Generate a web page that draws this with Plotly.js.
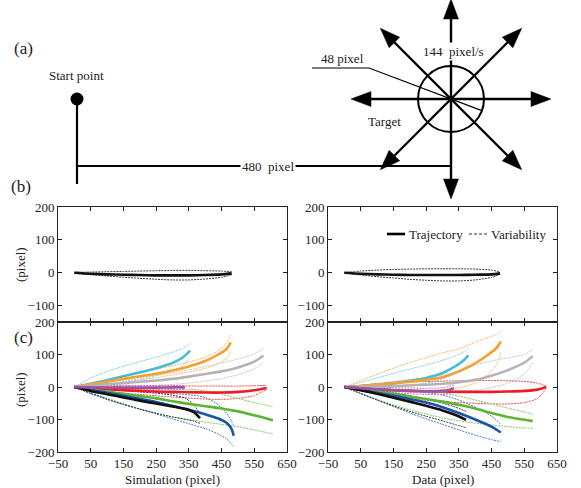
<!DOCTYPE html>
<html><head><meta charset="utf-8">
<script src="https://cdn.plot.ly/plotly-3.0.1.min.js"></script>
<style>html,body{margin:0;padding:0;background:#fff}#chart{width:581px;height:488px}</style>
</head><body><div id="chart"></div>
<script>
// ---------------- DATA ----------------
const xTicks = [-50, 50, 150, 250, 350, 450, 550, 650];
const yTicksB = [-100, 0, 100, 200];
const yTicksC = [-200, -100, 0, 100, 200];
const legendLabels = ['Trajectory', 'Variability'];
const xTitles = ['Simulation (pixel)', 'Data (pixel)'];
const yTitle = '(pixel)';
const panelLabels = ['(a)', '(b)', '(c)'];

// panel (b): one target direction
const bSimX    = [0, 50, 100, 150, 200, 250, 300, 350, 400, 450, 481];
const bSimMean = [0, -3, -5, -6, -7, -8, -8, -8, -7, -5, -2];
const bSimUp   = [1, 2, 3, 4, 5, 6, 7, 7, 6, 5, 3];
const bSimLow  = [-2, -6, -10, -14, -17, -20, -22, -22, -19, -14, -6];
const bDatX    = [0, 50, 100, 150, 200, 250, 300, 350, 400, 450, 476];
const bDatMean = [0, -3, -5, -6, -7, -7, -7, -7, -6, -5, -2];
const bDatUp   = [0, 5, 8, 10, 11, 12, 12, 12, 11, 8, 2];
const bDatLow  = [0, -7, -12, -16, -20, -23, -25, -25, -22, -14, -5];

// panel (c) simulation
const sCyanX = [0, 50, 100, 150, 200, 250, 300, 330, 354];
const sCyanMean = [0, 10, 21, 33, 45, 58, 74, 90, 112];
const sCyanUp = [0, 28, 48, 64, 78, 92, 107, 118, 134];
const sCyanLow = [0, 4, 10, 17, 25, 35, 50, 65, 92];
const sOrangeX = [0, 50, 100, 150, 200, 250, 300, 350, 400, 440, 465, 478];
const sOrangeMean = [0, 8, 16, 25, 33, 41, 51, 63, 80, 100, 117, 137];
const sOrangeUp = [0, 12, 24, 35, 45, 55, 65, 77, 92, 112, 135, 160];
const sOrangeLow = [0, 4, 9, 15, 22, 29, 37, 46, 57, 72, 88, 109];
const sGrayX = [0, 50, 100, 150, 200, 250, 300, 350, 400, 450, 500, 550, 578];
const sGrayMean = [0, 4, 8, 12, 16, 20, 25, 32, 40, 48, 60, 78, 97];
const sGrayUp = [0, 8, 15, 22, 29, 36, 44, 53, 63, 74, 86, 102, 118];
const sGrayLow = [0, 0, 1, 2, 3, 5, 8, 12, 18, 26, 38, 56, 76];
const sRedX = [0, 50, 100, 150, 200, 250, 300, 350, 400, 450, 500, 550, 588];
const sRedMean = [0, -4, -7, -10, -12, -14, -15, -16, -17, -17, -15, -10, -3];
const sRedUp = [0, 1, 2, 3, 3, 3, 3, 3, 3, 3, 3, 4, 5];
const sRedLow = [0, -8, -14, -19, -23, -27, -31, -34, -37, -38, -35, -26, -8];
const sPurpleX = [0, 50, 100, 150, 200, 250, 300, 338];
const sPurpleMean = [0, -1, -2, -2, -2, -2, -1, -1];
const sPurpleUp = [0, 3, 4, 5, 5, 5, 5, 5];
const sPurpleLow = [0, -4, -6, -7, -7, -7, -7, -6];
const sGreenX = [0, 50, 100, 150, 200, 250, 300, 350, 400, 450, 500, 550, 607];
const sGreenMean = [0, -7, -14, -21, -28, -35, -44, -52, -59, -66, -75, -87, -102];
const sGreenUp = [0, -2, -4, -5, -6, -6, -6, -7, -12, -22, -35, -48, -60];
const sGreenLow = [0, -20, -38, -54, -68, -80, -92, -100, -108, -115, -122, -132, -145];
const sBlueX = [0, 50, 100, 150, 200, 250, 300, 350, 400, 440, 465, 480, 487];
const sBlueMean = [0, -9, -18, -27, -36, -46, -58, -70, -84, -97, -110, -128, -150];
const sBlueUp = [0, -3, -6, -9, -12, -16, -20, -24, -32, -55, -80, -105, -117];
const sBlueLow = [0, -18, -35, -52, -68, -83, -98, -113, -128, -145, -160, -175, -184];
const sBlackX = [0, 50, 100, 150, 200, 250, 300, 340, 365, 384];
const sBlackMean = [0, -12, -22, -32, -42, -51, -60, -68, -77, -96];
const sBlackUp = [0, -3, -7, -11, -15, -19, -25, -35, -55, -82];
const sBlackLow = [0, -20, -38, -54, -68, -81, -92, -100, -105, -112];

// panel (c) data
const dCyanX = [0, 50, 100, 150, 200, 250, 300, 340, 365, 379];
const dCyanMean = [0, 3, 7, 12, 19, 28, 43, 64, 82, 97];
const dCyanUp = [0, 14, 28, 42, 55, 68, 82, 96, 108, 118];
const dCyanLow = [0, -2, -2, 0, 5, 12, 25, 42, 58, 76];
const dOrangeX = [0, 50, 100, 150, 200, 250, 300, 350, 400, 440, 465, 478];
const dOrangeMean = [0, 3, 7, 11, 16, 22, 30, 48, 73, 100, 120, 140];
const dOrangeUp = [0, 20, 39, 58, 75, 90, 105, 117, 138, 152, 162, 172];
const dOrangeLow = [0, -5, -10, -14, -15, -13, -8, -2, 12, 40, 70, 106];
const dGrayX = [0, 50, 100, 150, 200, 250, 300, 350, 400, 450, 500, 550, 576];
const dGrayMean = [0, 1, 2, 3, 5, 7, 10, 15, 22, 35, 52, 75, 95];
const dGrayUp = [0, 5, 11, 17, 23, 29, 37, 50, 68, 80, 90, 100, 116];
const dGrayLow = [0, -3, -6, -8, -10, -11, -12, -12, -10, -2, 12, 40, 75];
const dRedX = [0, 50, 100, 150, 200, 250, 300, 350, 400, 450, 500, 550, 590, 617];
const dRedMean = [0, -4, -8, -10, -12, -13, -14, -15, -15, -15, -14, -12, -8, 0];
const dRedUp = [0, 5, 10, 13, 15, 17, 18, 19, 20, 20, 19, 17, 12, 3];
const dRedLow = [0, -12, -22, -30, -36, -41, -45, -48, -50, -52, -52, -48, -35, -5];
const dPurpleX = [0, 50, 100, 150, 200, 250, 300, 320, 335];
const dPurpleMean = [0, -4, -7, -10, -12, -13, -12, -9, -4];
const dPurpleUp = [0, 0, -1, -2, -3, -4, -2, 2, 6];
const dPurpleLow = [0, -8, -14, -18, -21, -23, -23, -20, -14];
const dGreenX = [0, 50, 100, 150, 200, 250, 300, 350, 400, 450, 500, 550, 576];
const dGreenMean = [0, -7, -14, -21, -29, -37, -45, -55, -66, -80, -92, -101, -105];
const dGreenUp = [0, -2, -4, -6, -9, -13, -19, -28, -40, -52, -65, -77, -84];
const dGreenLow = [0, -20, -38, -55, -70, -83, -95, -104, -111, -117, -122, -126, -127];
const dBlueX = [0, 50, 100, 150, 200, 250, 300, 350, 400, 450, 478];
const dBlueMean = [0, -9, -18, -27, -37, -48, -62, -80, -100, -122, -140];
const dBlueUp = [0, -2, -5, -8, -12, -17, -25, -40, -62, -90, -115];
const dBlueLow = [0, -20, -40, -60, -80, -98, -115, -132, -148, -162, -168];
const dBlackX = [0, 50, 100, 150, 200, 250, 300, 340, 372];
const dBlackMean = [0, -10, -21, -33, -45, -58, -72, -86, -101];
const dBlackUp = [0, -5, -11, -18, -27, -37, -50, -62, -75];
const dBlackLow = [0, -20, -40, -58, -75, -90, -104, -116, -125];

// panel (a) schematic labels / directions
const diagTexts = ['Start point', '144  pixel/s', '48 pixel', 'Target', '480  pixel'];
const arrowAngles = [0, 45, 90, 135, 180, 225, 270, 315];

// ---------------- STYLE ----------------
const W = 581, H = 488;
const FONT = 'Liberation Serif';
const TXT = '#222';
const colors = {
  cyan:   ['#45BDD2', '#7FD0E2'],
  orange: ['#F5A030', '#F7B865'],
  gray:   ['#B4B4B4', '#C6C6C6'],
  red:    ['#EC1C24', '#EE4A4A'],
  purple: ['#A64FA6', '#C47FC4'],
  green:  ['#5BB531', '#7EC65C'],
  blue:   ['#1A55A5', '#4C7EC2'],
  black:  ['#111111', '#3A3A3A']
};

const traces = [];
function curve(xs, ys, xa, ya, color, width, dash) {
  traces.push({
    type: 'scatter', mode: 'lines', x: xs, y: ys, xaxis: xa, yaxis: ya,
    line: {color: color, width: width, dash: dash, shape: 'spline', smoothing: 0.8},
    hoverinfo: 'skip', showlegend: false
  });
}
function group(list, xa, ya) {
  list.forEach(g => {
    const c = colors[g[0]];
    curve(g[1], g[3], xa, ya, c[1], 1, '2px,1px');
    curve(g[1], g[4], xa, ya, c[1], 1, '2px,1px');
  });
  list.forEach(g => {
    const c = colors[g[0]];
    curve(g[1], g[2], xa, ya, c[0], 2.6, 'solid');
  });
}

// (b)
group([['black', bSimX, bSimMean, bSimUp, bSimLow]], 'x', 'y');
group([['black', bDatX, bDatMean, bDatUp, bDatLow]], 'x2', 'y2');

// (c)
group([
  ['cyan', sCyanX, sCyanMean, sCyanUp, sCyanLow],
  ['orange', sOrangeX, sOrangeMean, sOrangeUp, sOrangeLow],
  ['gray', sGrayX, sGrayMean, sGrayUp, sGrayLow],
  ['red', sRedX, sRedMean, sRedUp, sRedLow],
  ['green', sGreenX, sGreenMean, sGreenUp, sGreenLow],
  ['blue', sBlueX, sBlueMean, sBlueUp, sBlueLow],
  ['black', sBlackX, sBlackMean, sBlackUp, sBlackLow],
  ['purple', sPurpleX, sPurpleMean, sPurpleUp, sPurpleLow]
], 'x3', 'y3');
group([
  ['cyan', dCyanX, dCyanMean, dCyanUp, dCyanLow],
  ['orange', dOrangeX, dOrangeMean, dOrangeUp, dOrangeLow],
  ['gray', dGrayX, dGrayMean, dGrayUp, dGrayLow],
  ['red', dRedX, dRedMean, dRedUp, dRedLow],
  ['green', dGreenX, dGreenMean, dGreenUp, dGreenLow],
  ['blue', dBlueX, dBlueMean, dBlueUp, dBlueLow],
  ['black', dBlackX, dBlackMean, dBlackUp, dBlackLow],
  ['purple', dPurpleX, dPurpleMean, dPurpleUp, dPurpleLow]
], 'x4', 'y4');

// ---------------- (a) schematic on a hidden pixel axis ----------------
const start = {x: 77, y: 99}, target = {x: 451, y: 99};
const baseY = 166, stemEnd = 184, radius = 33, arrowLen = 100, headLen = 20, headHalf = 7.5;
function diagLine(xs, ys, w) {
  traces.push({type: 'scatter', mode: 'lines', x: xs, y: ys, xaxis: 'x5', yaxis: 'y5',
    line: {color: '#000', width: w}, hoverinfo: 'skip', showlegend: false});
}
diagLine([start.x, start.x], [start.y, stemEnd], 2.2);
diagLine([start.x, target.x], [baseY, baseY], 2.2);
traces.push({type: 'scatter', mode: 'markers', x: [start.x], y: [start.y], xaxis: 'x5', yaxis: 'y5',
  marker: {color: '#000', size: 13}, hoverinfo: 'skip', showlegend: false});
arrowAngles.forEach(a => {
  const r = a * Math.PI / 180, ux = Math.cos(r), uy = -Math.sin(r);
  const tx = target.x + arrowLen * ux, ty = target.y + arrowLen * uy;
  const bx = tx - headLen * ux, by = ty - headLen * uy;
  diagLine([target.x, bx + 2 * ux], [target.y, by + 2 * uy], 2.4);
  traces.push({type: 'scatter', mode: 'lines', fill: 'toself', fillcolor: '#000',
    x: [tx, bx - headHalf * uy, bx + headHalf * uy, tx],
    y: [ty, by + headHalf * ux, by - headHalf * ux, ty],
    xaxis: 'x5', yaxis: 'y5', line: {color: '#000', width: 0.5},
    hoverinfo: 'skip', showlegend: false});
});
// radius leader line
const knee = {x: 369, y: 68};
const dx = target.x - knee.x, dy = target.y - knee.y, dl = Math.hypot(dx, dy);
diagLine([312, knee.x, target.x + radius * dx / dl], [knee.y, knee.y, target.y + radius * dy / dl], 1.2);

// ---------------- LAYOUT ----------------
const fx = p => p / W, fy = p => 1 - p / H;
const L = [58, 287], R = [328, 557], B = [207, 322], C = [322, 452];
function ax(dom, extra) {
  return Object.assign({
    domain: dom, showgrid: false, zeroline: false, showline: true, mirror: 'ticks',
    linecolor: '#222', linewidth: 1, ticks: 'inside', ticklen: 4, tickcolor: '#222',
    tickfont: {family: FONT, size: 13, color: TXT}, fixedrange: true
  }, extra);
}
const layout = {
  width: W, height: H, margin: {l: 0, r: 0, t: 0, b: 0},
  paper_bgcolor: '#fff', plot_bgcolor: 'rgba(0,0,0,0)', showlegend: false,
  font: {family: FONT, size: 13, color: TXT},
  xaxis:  ax([fx(L[0]), fx(L[1])], {anchor: 'y', range: [-50, 650], tickvals: xTicks, showticklabels: false}),
  yaxis:  ax([fy(B[1]), fy(B[0])], {anchor: 'x', range: [-150, 200], tickvals: yTicksB}),
  xaxis2: ax([fx(R[0]), fx(R[1])], {anchor: 'y2', range: [-50, 650], tickvals: xTicks, showticklabels: false}),
  yaxis2: ax([fy(B[1]), fy(B[0])], {anchor: 'x2', range: [-150, 200], tickvals: yTicksB}),
  xaxis3: ax([fx(L[0]), fx(L[1])], {anchor: 'y3', range: [-50, 650], tickvals: xTicks, ticklabelstandoff: -1}),
  yaxis3: ax([fy(C[1]), fy(C[0])], {anchor: 'x3', range: [-200, 200], tickvals: yTicksC}),
  xaxis4: ax([fx(R[0]), fx(R[1])], {anchor: 'y4', range: [-50, 650], tickvals: xTicks, ticklabelstandoff: -1}),
  yaxis4: ax([fy(C[1]), fy(C[0])], {anchor: 'x4', range: [-200, 200], tickvals: yTicksC}),
  xaxis5: {domain: [0, 1], range: [0, W], visible: false, fixedrange: true, anchor: 'y5'},
  yaxis5: {domain: [0, 1], range: [H, 0], visible: false, fixedrange: true, anchor: 'x5'},
  shapes: [
    {type: 'circle', xref: 'x5', yref: 'y5', x0: target.x - radius, x1: target.x + radius,
     y0: target.y - radius, y1: target.y + radius, line: {color: '#000', width: 2}},
    // legend samples
    {type: 'line', xref: 'x5', yref: 'y5', x0: 387, x1: 405, y0: 234, y1: 234, line: {color: '#000', width: 2.6}},
    {type: 'line', xref: 'x5', yref: 'y5', x0: 469, x1: 487, y0: 234, y1: 234, line: {color: '#333', width: 1, dash: '3px,2px'}}
  ],
  annotations: []
};
function note(text, x, y, size, opts) {
  layout.annotations.push(Object.assign({text: text, x: x, y: y, xref: 'x5', yref: 'y5',
    showarrow: false, font: {family: FONT, size: size, color: TXT}}, opts || {}));
}
note(panelLabels[0], 23, 48, 17);
note(panelLabels[1], 21, 186, 17);
note(panelLabels[2], 23, 337, 17);
note(diagTexts[0], 76, 75, 13);
note(diagTexts[1], 453, 51, 13, {bgcolor: '#fff', borderpad: 1});
note(diagTexts[2], 342, 58, 13);
note(diagTexts[3], 384, 121, 13);
note(diagTexts[4], 268, 166, 13, {bgcolor: '#fff', borderpad: 1});
note(legendLabels[0], 407, 234, 13, {xanchor: 'left'});
note(legendLabels[1], 489, 234, 13, {xanchor: 'left'});
note(xTitles[0], (L[0] + L[1]) / 2, 479, 13);
note(xTitles[1], (R[0] + R[1]) / 2, 479, 13);
note(yTitle, 20, 265, 13, {textangle: -90});
note(yTitle, 20, 390, 13, {textangle: -90});

Plotly.newPlot('chart', traces, layout, {staticPlot: true, displayModeBar: false});
</script></body></html>
